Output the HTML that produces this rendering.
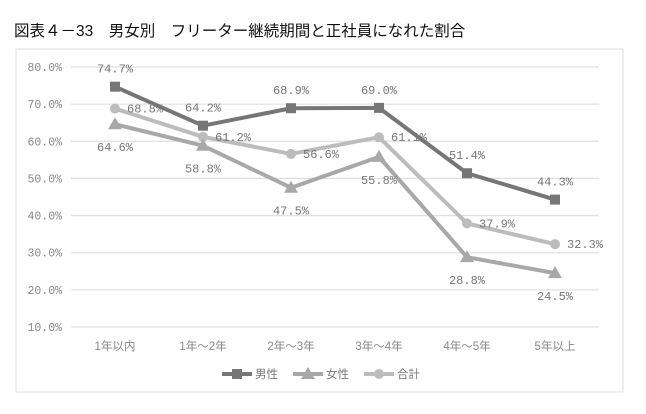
<!DOCTYPE html>
<html><head><meta charset="utf-8"><style>
body{margin:0;background:#fff;width:646px;height:409px;overflow:hidden;font-family:"Liberation Sans","Noto Sans CJK JP",sans-serif}
</style></head><body>
<svg width="646" height="409" xmlns="http://www.w3.org/2000/svg">
<text x="14" y="36" font-size="15.5" fill="#111" font-family="Liberation Sans,Noto Sans CJK JP,sans-serif">図表４－33　男女別　フリーター継続期間と正社員になれた割合</text>
<rect x="16" y="49" width="607" height="343" fill="#fff" stroke="#ddd"/>
<g id="grid"></g><g id="lines"></g><g id="labels"></g>
<g id="legend"></g>
</svg>
<script>
const categories=["1年以内","1年～2年","2年～3年","3年～4年","4年～5年","5年以上"];
const male=[74.7,64.2,68.9,69.0,51.4,44.3];
const female=[64.6,58.8,47.5,55.8,28.8,24.5];
const total=[68.8,61.2,56.6,61.1,37.9,32.3];
const yTicks=[10,20,30,40,50,60,70,80];
const NS="http://www.w3.org/2000/svg";
const x0=71,x1=599,yTop=67,yBot=327,yMin=10,yMax=80;
const xs=i=>x0+(x1-x0)/categories.length*(i+0.5);
const ys=v=>yBot-(v-yMin)/(yMax-yMin)*(yBot-yTop);
function mk(tag,attrs,parent){const e=document.createElementNS(NS,tag);for(const k in attrs)e.setAttribute(k,attrs[k]);parent.appendChild(e);return e;}
const grid=document.getElementById('grid'),lines=document.getElementById('lines'),labels=document.getElementById('labels'),legend=document.getElementById('legend');
const font="Liberation Mono,Noto Sans CJK JP,monospace";
yTicks.forEach(t=>{
 const l=mk('line',{x1:x0,x2:x1,y1:ys(t),y2:ys(t),stroke:'#e0e0e0','stroke-width':1.3},grid);
 
 
 const tx=mk('text',{x:62,y:ys(t)+4,'text-anchor':'end','font-size':11.5,fill:'#888','font-family':font},grid);
 tx.textContent=t.toFixed(1)+'%';
 
 
});
categories.forEach((c,i)=>{
 const tx=mk('text',{x:xs(i),y:350,'text-anchor':'middle','font-size':11.5,fill:'#888','font-family':"Liberation Sans,Noto Sans CJK JP,sans-serif"},grid);
 tx.textContent=c;
 
 
});
const series=[
 {name:'男性',key:'male',data:male,color:'#767676',marker:'square',ldx:0,ldy:-14,anchor:'middle'},
 {name:'女性',key:'female',data:female,color:'#a8a8a8',marker:'triangle',ldx:0,ldy:27,anchor:'middle'},
 {name:'合計',key:'total',data:total,color:'#bcbcbc',marker:'circle',ldx:12,ldy:4,anchor:'start'}
];
function marker(s,x,y,p){
 let e;
 if(s.marker==='square')e=mk('rect',{x:x-5,y:y-5,width:10,height:10,fill:s.color},p);
 else if(s.marker==='triangle')e=mk('polygon',{points:`${x},${y-7} ${x+7},${y+5} ${x-7},${y+5}`,fill:s.color},p);
 else e=mk('circle',{cx:x,cy:y,r:5,fill:s.color},p);
 return e;
}
[series[2],series[1],series[0]].forEach(s=>{
 const pl=mk('polyline',{points:s.data.map((v,i)=>xs(i)+','+ys(v)).join(' '),fill:'none',stroke:s.color,'stroke-width':4,'stroke-linejoin':'round'},lines);
 
 
 s.data.forEach((v,i)=>{
  const m=marker(s,xs(i),ys(v),lines);
  
  
  const t=mk('text',{x:xs(i)+s.ldx,y:ys(v)+s.ldy,'text-anchor':s.anchor,'font-size':12,fill:'#777','font-family':font},labels);
  t.textContent=v.toFixed(1)+'%';
  
  
 });
});
let lx=222;
series.forEach(s=>{
 const g=mk('g',{},legend);
 
 
 mk('line',{x1:lx,x2:lx+30,y1:374,y2:374,stroke:s.color,'stroke-width':4},g);
 marker(s,lx+15,374,g);
 const t=mk('text',{x:lx+33,y:378,'font-size':11.5,fill:'#777','font-family':"Liberation Sans,Noto Sans CJK JP,sans-serif"},g);
 t.textContent=s.name;
 lx+=71;
});
</script>
</body></html>
